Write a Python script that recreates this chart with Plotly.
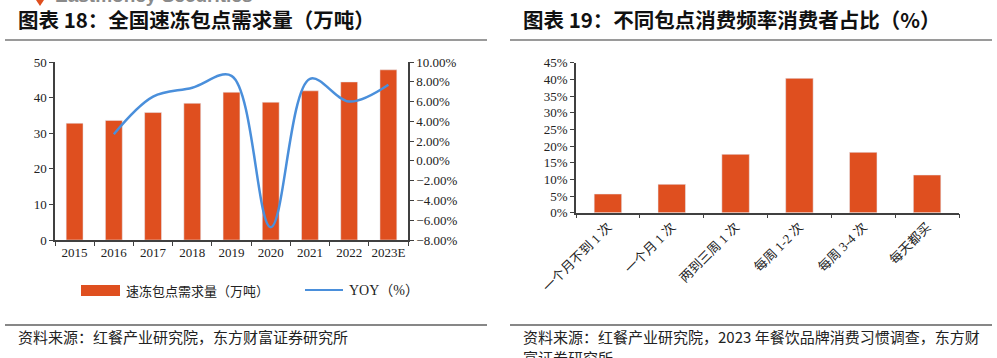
import plotly.graph_objects as go

W, H = 997, 358

# ---- data ----
years = ["2015", "2016", "2017", "2018", "2019", "2020", "2021", "2022", "2023E"]
demand = [32.8, 33.6, 35.8, 38.4, 41.5, 38.7, 41.9, 44.4, 47.8]
yoy = [None, 2.7, 6.5, 7.4, 8.6, -6.7, 8.3, 6.0, 7.7]

freq_labels = ["一个月不到 1 次", "一个月 1 次", "两到三周 1 次", "每周 1-2 次", "每周 3-4 次", "每天都买"]
freq_share = [5.6, 8.5, 17.5, 40.3, 18.1, 11.3]

left_title = "图表 18：全国速冻包点需求量（万吨）"
right_title = "图表 19：不同包点消费频率消费者占比（%）"
left_source = "资料来源：红餐产业研究院，东方财富证券研究所"
right_source_1 = "资料来源：红餐产业研究院，2023 年餐饮品牌消费习惯调查，东方财"
right_source_2 = "富证券研究所"
legend_bar = "速冻包点需求量（万吨）"
legend_line = "YOY（%）"

ORANGE = "#DF4F1F"
BLUE = "#4A8FDB"
AX = "#404040"
SERIF = "Liberation Serif, Noto Sans CJK SC"
CJK = "Noto Sans CJK SC"


def px(x):
    return x / W


def py(y):
    return 1 - y / H


fig = go.Figure()
fig.add_trace(go.Bar(x=years, y=demand, marker_color=ORANGE, xaxis="x", yaxis="y",
                     name=legend_bar, showlegend=False))
fig.add_trace(go.Scatter(x=years, y=yoy, mode="lines", line=dict(color=BLUE, width=2.5, shape="spline"),
                         xaxis="x", yaxis="y2", name=legend_line, showlegend=False, connectgaps=False))
fig.add_trace(go.Bar(x=freq_labels, y=freq_share, marker_color=ORANGE, xaxis="x2", yaxis="y3",
                     showlegend=False))

axis_common = dict(showline=True, linecolor=AX, linewidth=1.5, ticks="outside", ticklen=4,
                   tickcolor=AX, tickwidth=1.2, showgrid=False, zeroline=False, automargin=False,
                   tickfont=dict(family=SERIF, size=13, color="#222"))

fig.update_layout(
    width=W, height=H, margin=dict(l=0, r=0, t=0, b=0, autoexpand=False),
    paper_bgcolor="white", plot_bgcolor="white",
    bargap=0.57, barmode="group",
    xaxis=dict(domain=[px(55), px(408)], anchor="y", tickson="boundaries", tickangle=0, **axis_common),
    yaxis=dict(domain=[py(240), py(62)], anchor="x", range=[0, 50], dtick=10, **axis_common),
    yaxis2=dict(overlaying="y", side="right", anchor="x", range=[-8, 10], dtick=2,
                tickformat=".2f", ticksuffix="%", **axis_common),
    xaxis2=dict(domain=[px(576), px(959)], anchor="y3", tickson="boundaries", tickangle=-45,
                **{**axis_common, "tickfont": dict(family=SERIF, size=13, color="#222")}),
    yaxis3=dict(domain=[py(212.7), py(62.7)], anchor="x2", range=[0, 45], dtick=5,
                ticksuffix="%", **axis_common),
)

shapes = []
annotations = []

# header lines
shapes.append(dict(type="line", xref="paper", yref="paper", x0=px(5), x1=px(487), y0=py(40), y1=py(40),
                   line=dict(color="#9a9a9a", width=2)))
shapes.append(dict(type="line", xref="paper", yref="paper", x0=px(510), x1=px(992), y0=py(40), y1=py(40),
                   line=dict(color="#9a9a9a", width=2)))
# footer lines
shapes.append(dict(type="line", xref="paper", yref="paper", x0=px(5), x1=px(487), y0=py(325), y1=py(325),
                   line=dict(color="#111", width=1.2)))
shapes.append(dict(type="line", xref="paper", yref="paper", x0=px(510), x1=px(992), y0=py(325), y1=py(325),
                   line=dict(color="#111", width=1.2)))

# manual legend
shapes.append(dict(type="rect", xref="paper", yref="paper", x0=px(81), x1=px(120), y0=py(296), y1=py(285),
                   fillcolor=ORANGE, line=dict(width=0)))
shapes.append(dict(type="line", xref="paper", yref="paper", x0=px(305), x1=px(343), y0=py(290), y1=py(290),
                   line=dict(color=BLUE, width=2)))
annotations.append(dict(xref="paper", yref="paper", x=px(124), y=py(290), text=legend_bar, showarrow=False,
                        xanchor="left", yanchor="middle", font=dict(family=CJK, size=13, color="#222")))
annotations.append(dict(xref="paper", yref="paper", x=px(347), y=py(290), text=legend_line, showarrow=False,
                        xanchor="left", yanchor="middle", font=dict(family=SERIF, size=14, color="#222")))

# titles
annotations.append(dict(xref="paper", yref="paper", x=px(16), y=py(19), text="<b>" + left_title + "</b>",
                        showarrow=False, xanchor="left", yanchor="middle",
                        font=dict(family=CJK, size=20.5, color="#111")))
annotations.append(dict(xref="paper", yref="paper", x=px(521), y=py(19), text="<b>" + right_title + "</b>",
                        showarrow=False, xanchor="left", yanchor="middle",
                        font=dict(family=CJK, size=20.5, color="#111")))

# sources
annotations.append(dict(xref="paper", yref="paper", x=px(16), y=py(336), text=left_source,
                        showarrow=False, xanchor="left", yanchor="middle",
                        font=dict(family=CJK, size=15, color="#222")))
annotations.append(dict(xref="paper", yref="paper", x=px(521), y=py(336), text=right_source_1,
                        showarrow=False, xanchor="left", yanchor="middle",
                        font=dict(family=CJK, size=15, color="#222")))
annotations.append(dict(xref="paper", yref="paper", x=px(521), y=py(357), text=right_source_2,
                        showarrow=False, xanchor="left", yanchor="middle",
                        font=dict(family=CJK, size=15, color="#222")))

# cut-off header brand text
annotations.append(dict(xref="paper", yref="paper", x=px(53), y=py(-4), text="<b>Eastmoney Securities</b>",
                        showarrow=False, xanchor="left", yanchor="middle",
                        font=dict(family="Liberation Sans, Arial", size=19, color="#8a8a8a")))
shapes.append(dict(type="path", xref="paper", yref="paper",
                   path=f"M {px(36)} {py(0)} L {px(44)} {py(0)} L {px(40)} {py(6)} Z",
                   fillcolor=ORANGE, line=dict(width=0)))

fig.update_layout(shapes=shapes, annotations=annotations)
fig.write_html("out.html", config={"displayModeBar": False},
               post_script="document.body.style.margin='0';document.body.style.overflow='hidden';")
